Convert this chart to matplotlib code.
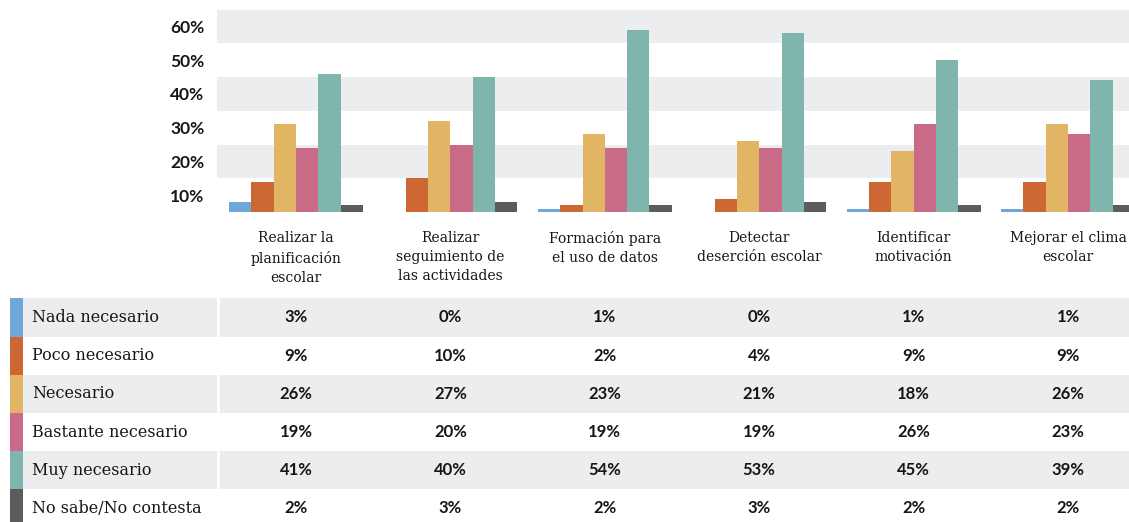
import matplotlib.pyplot as plt
import matplotlib.transforms as mtransforms
from matplotlib.patches import Rectangle
import numpy as np

# categories (columns) and answer levels (series)
categorias = ['Realizar la\nplanificación\nescolar',
              'Realizar\nseguimiento de\nlas actividades',
              'Formación para\nel uso de datos',
              'Detectar\ndeserción escolar',
              'Identificar\nmotivación',
              'Mejorar el clima\nescolar']
niveles = ['Nada necesario', 'Poco necesario', 'Necesario',
           'Bastante necesario', 'Muy necesario', 'No sabe/No contesta']

nada = [3, 0, 1, 0, 1, 1]
poco = [9, 10, 2, 4, 9, 9]
necesario = [26, 27, 23, 21, 18, 26]
bastante = [19, 20, 19, 19, 26, 23]
muy = [41, 40, 54, 53, 45, 39]
no_sabe = [2, 3, 2, 3, 2, 2]

series = [nada, poco, necesario, bastante, muy, no_sabe]
colores = ['#6fa7da', '#cd6733', '#e2b564', '#c96a86', '#7fb5ad', '#5c5c5c']
eje_labels = ['10%', '20%', '30%', '40%', '50%', '60%']

W, H = 1129, 522
gris = '#ecedef'
texto = '#161616'

fig = plt.figure(figsize=(W / 100, H / 100), dpi=100)

# full-figure axes in pixel units for the table
tab = fig.add_axes([0, 0, 1, 1])
tab.set_xlim(0, W)
tab.set_ylim(H, 0)
tab.axis('off')

# bar chart axes
left, base, top = 217, 212, 9.5
ax = fig.add_axes([left / W, 1 - base / H, (W - left) / W, (base - top) / H])
ax.set_xlim(-0.512, 5.395)
ax.set_ylim(0, 60)

for lo in (10, 30, 50):
    ax.axhspan(lo, lo + 10, color=gris, lw=0, zorder=0)

x = np.arange(len(categorias))
bw = 0.1445
for k, (vals, c) in enumerate(zip(series, colores)):
    ax.bar(x + (k - 2.5) * bw, vals, width=bw, color=c, lw=0, zorder=2)

for s in ax.spines.values():
    s.set_visible(False)
ax.set_yticks(np.arange(5, 60, 10))
ax.set_yticklabels(eje_labels, fontfamily='Lato', fontweight='bold',
                   fontsize=12.5, color=texto)
ax.set_xticks(x)
ax.set_xticklabels(categorias, fontfamily='DejaVu Serif', fontsize=10,
                   color=texto, linespacing=1.45, va='top')
ax.tick_params(length=0)
ax.tick_params(axis='y', pad=9)
ax.tick_params(axis='x', pad=14)

# table below
row_top, row_h = 298.3, 38.2
mix = mtransforms.blended_transform_factory(ax.transData, tab.transData)
for r, (nombre, vals, c) in enumerate(zip(niveles, series, colores)):
    y0 = row_top + r * row_h
    tab.add_patch(Rectangle((10, y0), 13, row_h, color=c, lw=0))
    if r % 2 == 0:
        tab.add_patch(Rectangle((23, y0), left - 23, row_h, color=gris, lw=0))
        tab.add_patch(Rectangle((left + 2.5, y0), W, row_h, color=gris, lw=0))
    tab.text(32, y0 + row_h / 2, nombre, fontfamily='DejaVu Serif',
             fontsize=11.5, color=texto, va='center', ha='left')
    for i, v in enumerate(vals):
        tab.text(i, y0 + row_h / 2, f'{v}%', transform=mix,
                 fontfamily='Lato', fontweight='bold', fontsize=12,
                 color=texto, va='center', ha='center')

fig.savefig('out.png', dpi=100)
